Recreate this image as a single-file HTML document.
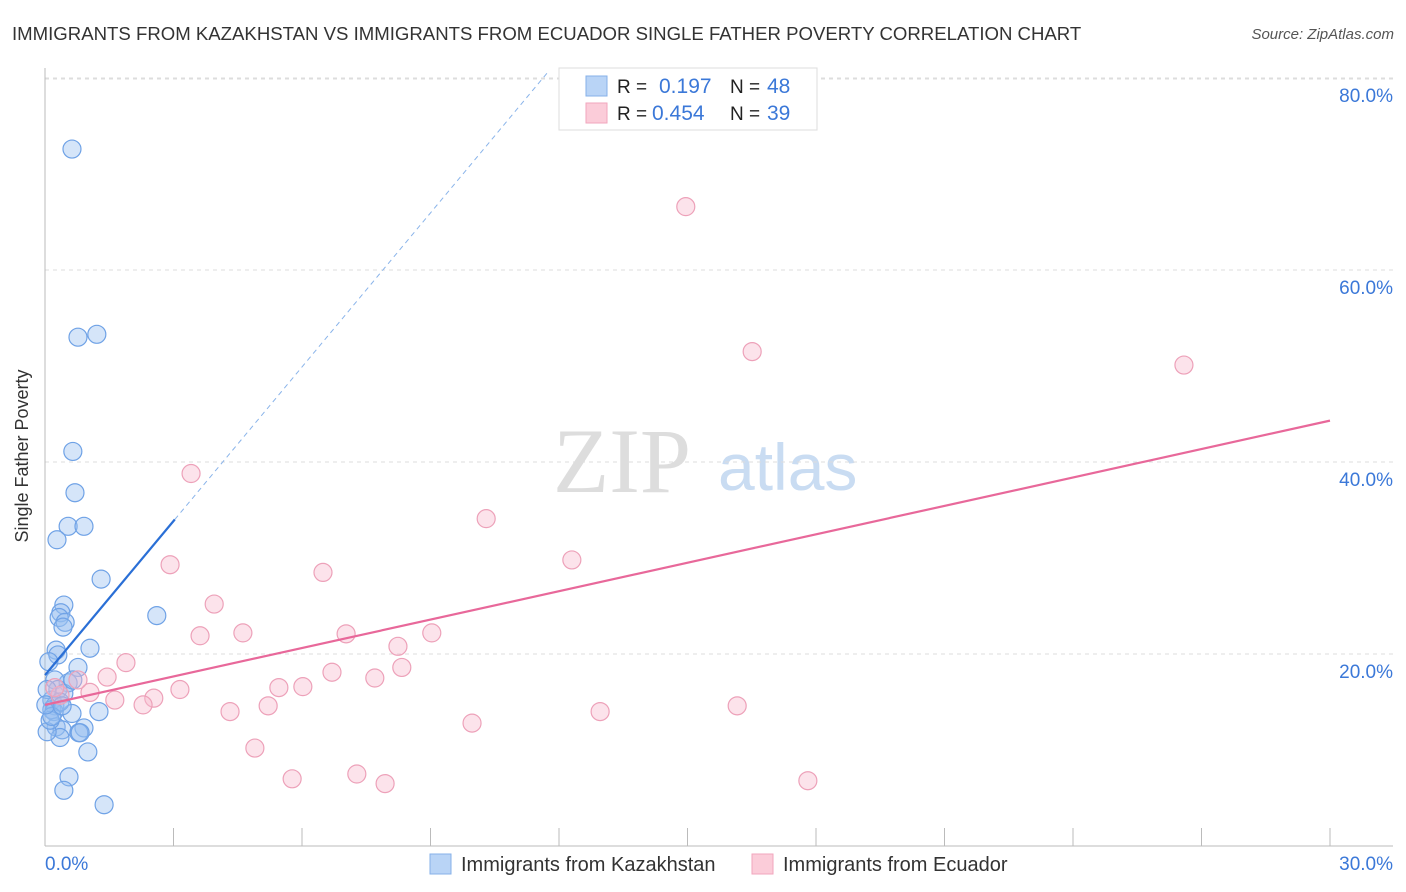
<!DOCTYPE html>
<html><head><meta charset="utf-8"><style>
body{margin:0;background:#fff;font-family:"Liberation Sans",sans-serif;}
#wrap{position:relative;width:1406px;height:892px;overflow:hidden;}
</style></head><body>
<div id="wrap">
<svg id="svg" width="1406" height="892" xmlns="http://www.w3.org/2000/svg" font-family="Liberation Sans, sans-serif">
<text x="12" y="40" font-size="18.6" fill="#333">IMMIGRANTS FROM KAZAKHSTAN VS IMMIGRANTS FROM ECUADOR SINGLE FATHER POVERTY CORRELATION CHART</text>
<text x="1394" y="39" font-size="15" fill="#555" font-style="italic" text-anchor="end">Source: ZipAtlas.com</text>
<text x="28" y="456" font-size="18" fill="#333" transform="rotate(-90 28 456)" text-anchor="middle">Single Father Poverty</text>
<g><text x="553" y="492" font-size="92" font-family="Liberation Serif, serif" fill="#ddd">ZIP</text><text x="718" y="490" font-size="66" fill="#c9dcf2">atlas</text></g>
<g id="grid"></g><g id="axes"></g><g id="marks"></g>
<g>
<rect x="559" y="68" width="258" height="62" fill="#fff" stroke="#ddd"/>
<rect x="586" y="76" width="21" height="20" fill="#b9d4f6" stroke="#86b0e8"/>
<rect x="586" y="103" width="21" height="20" fill="#fbccd9" stroke="#f2a6bd"/>
<text x="617" y="93" font-size="19" fill="#222">R = </text><text x="659" y="93" font-size="21" fill="#3b78d8">0.197</text>
<text x="730" y="93" font-size="19" fill="#222">N = </text><text x="767" y="93" font-size="21" fill="#3b78d8">48</text>
<text x="617" y="120" font-size="19" fill="#222">R = </text><text x="652" y="120" font-size="21" fill="#3b78d8">0.454</text>
<text x="730" y="120" font-size="19" fill="#222">N = </text><text x="767" y="120" font-size="21" fill="#3b78d8">39</text>
</g>
<g>
<rect x="430" y="854" width="21" height="20" fill="#b9d4f6" stroke="#86b0e8"/>
<text x="461" y="871" font-size="20" fill="#333">Immigrants from Kazakhstan</text>
<rect x="752" y="854" width="21" height="20" fill="#fbccd9" stroke="#f2a6bd"/>
<text x="783" y="871" font-size="20" fill="#333">Immigrants from Ecuador</text>
</g>
</svg>
</div>
<script>
const yTicks=[20,40,60,80];
const yTickLabels=["20.0%","40.0%","60.0%","80.0%"];
const xTicks=[0,3,6,9,12,15,18,21,24,27,30];
const kazX=[0.63,0.77,1.21,0.65,0.70,0.54,0.91,0.28,1.31,0.44,0.37,0.33,0.47,0.42,2.61,1.05,0.26,0.30,0.09,0.77,0.54,0.23,0.30,0.44,0.16,0.23,0.16,0.21,0.63,1.26,0.91,0.26,0.40,0.35,0.79,1.00,0.56,0.44,1.38,0.05,0.05,0.12,0.35,0.65,0.82,0.16,0.02,0.40];
const kazY=[72.6,53.0,53.3,41.1,36.8,33.3,33.3,31.9,27.8,25.1,24.3,23.8,23.3,22.8,24.0,20.6,20.4,19.9,19.2,18.6,17.0,17.3,16.3,15.9,15.2,14.6,14.2,14.0,13.8,14.0,12.3,12.4,12.1,11.3,11.8,9.8,7.2,5.8,4.3,16.3,11.9,13.1,15.0,17.3,11.8,13.5,14.7,14.6];
const ecuX=[14.96,16.51,26.59,3.41,10.30,12.30,2.92,6.49,3.95,3.62,4.62,7.03,9.03,8.24,1.89,8.33,1.45,0.77,6.70,7.70,1.05,3.15,5.46,6.02,2.54,1.63,2.29,4.32,5.21,12.96,16.16,9.97,4.90,5.77,7.28,7.94,17.81,0.35,0.23];
const ecuY=[66.6,51.5,50.1,38.8,34.1,29.8,29.3,28.5,25.2,21.9,22.2,22.1,22.2,20.8,19.1,18.6,17.6,17.3,18.1,17.5,16.0,16.3,16.5,16.6,15.4,15.2,14.7,14.0,14.6,14.0,14.6,12.8,10.2,7.0,7.5,6.5,6.8,15.7,16.5];
const kazTrend=[17.8,5.35];
const ecuTrend=[14.7,0.987];
const X0=45,X1=1330,Y0=846,PXPER=9.6;
function sx(v){return X0+(v/30)*(X1-X0);}
function sy(v){return Y0-v*PXPER;}
const NS="http://www.w3.org/2000/svg";
function mk(t,a,p){const e=document.createElementNS(NS,t);for(const k in a)e.setAttribute(k,a[k]);p.appendChild(e);return e;}
const grid=document.getElementById('grid'),axes=document.getElementById('axes'),marks=document.getElementById('marks');
const topLine=mk('line',{x1:45,x2:1393,y1:79,y2:79,stroke:'#ddd','stroke-dasharray':'4,4'},grid);


yTicks.forEach((t,i)=>{
 const l=mk('line',{x1:45,x2:1393,y1:sy(t),y2:sy(t),stroke:'#ddd','stroke-dasharray':'4,4'},grid);
 
 
 const tx=mk('text',{x:1393,y:sy(t)+24,'font-size':19,fill:'#3b78d8','text-anchor':'end'},axes);
 tx.textContent=yTickLabels[i];
 
 
});
const ya=mk('line',{x1:45,x2:45,y1:68,y2:846,stroke:'#bbb'},axes);


const xa=mk('line',{x1:45,x2:1393,y1:846,y2:846,stroke:'#bbb'},axes);


xTicks.forEach(t=>{
 const l=mk('line',{x1:sx(t),x2:sx(t),y1:828,y2:846,stroke:'#bbb'},axes);
 
 
});
const xl0=mk('text',{x:45,y:870,'font-size':19,fill:'#3b78d8'},axes);xl0.textContent='0.0%';


const xl1=mk('text',{x:1393,y:870,'font-size':19,fill:'#3b78d8','text-anchor':'end'},axes);xl1.textContent='30.0%';


kazX.forEach((x,i)=>{
 const c=mk('circle',{cx:sx(x),cy:sy(kazY[i]),r:9,fill:'rgba(150,190,240,0.4)',stroke:'#6fa2e6','stroke-width':1.2},marks);
 
 
});
ecuX.forEach((x,i)=>{
 const c=mk('circle',{cx:sx(x),cy:sy(ecuY[i]),r:9,fill:'rgba(248,185,205,0.4)',stroke:'#eda1b9','stroke-width':1.2},marks);
 
 
});
const kxEnd=3.03,kxDash=(80.5-kazTrend[0])/kazTrend[1];
const kd=mk('line',{x1:sx(kxEnd),y1:sy(kazTrend[0]+kazTrend[1]*kxEnd),x2:sx(kxDash),y2:sy(kazTrend[0]+kazTrend[1]*kxDash),stroke:'#8ab4ea','stroke-width':1,'stroke-dasharray':'5,4'},marks);


const kt=mk('line',{x1:sx(0),y1:sy(kazTrend[0]),x2:sx(kxEnd),y2:sy(kazTrend[0]+kazTrend[1]*kxEnd),stroke:'#2a6fd6','stroke-width':2.2},marks);


const et=mk('line',{x1:sx(0),y1:sy(ecuTrend[0]),x2:sx(30),y2:sy(ecuTrend[0]+ecuTrend[1]*30),stroke:'#e8689a','stroke-width':2.2},marks);


</script>
</body></html>
